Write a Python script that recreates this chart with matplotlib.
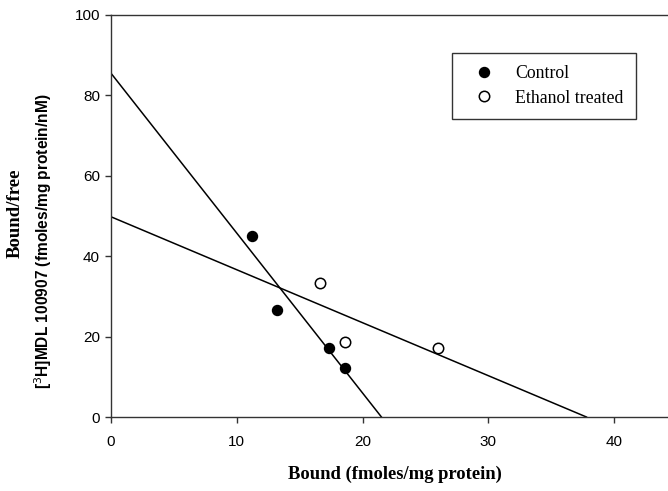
import matplotlib
matplotlib.use('Agg')
import matplotlib.pyplot as plt

# Scatchard data
control_bound = [11.2, 13.2, 17.3, 18.6]
control_ratio = [45.0, 26.5, 17.1, 12.3]
ethanol_bound = [16.6, 18.6, 26.0]
ethanol_ratio = [33.3, 18.6, 17.2]

# fitted lines: y-intercept and x-intercept
control_line_x = [0, 21.5]
control_line_y = [85.5, 0]
ethanol_line_x = [0, 37.8]
ethanol_line_y = [49.8, 0]

xticks = [0, 10, 20, 30, 40]
yticks = [0, 20, 40, 60, 80, 100]

fig = plt.figure(figsize=(6.68, 4.91), dpi=100)
ax = fig.add_axes([0.1662, 0.1507, 0.8473, 0.8188])

ax.plot(control_line_x, control_line_y, color='black', lw=1.1, zorder=2)
ax.plot(ethanol_line_x, ethanol_line_y, color='black', lw=1.1, zorder=2)
ax.plot(control_bound, control_ratio, 'o', color='black', ms=7.2, ls='none',
        label='Control', zorder=3)
ax.plot(ethanol_bound, ethanol_ratio, 'o', mfc='white', mec='black', mew=1.1,
        ms=7.5, ls='none', label='Ethanol treated', zorder=3)

ax.set_xlim(0, 45)
ax.set_ylim(0, 100)
ax.set_xticks(xticks)
ax.set_yticks(yticks)
ax.spines['right'].set_visible(False)
for s in ['left', 'bottom', 'top']:
    ax.spines[s].set_color('#333333')
    ax.spines[s].set_linewidth(1.0)
ax.tick_params(direction='out', length=4, width=1, color='#333333',
               labelsize=11)
ax.tick_params(axis='x', pad=9)
ax.tick_params(axis='y', pad=4)
for lab in ax.get_xticklabels() + ax.get_yticklabels():
    lab.set_family('Liberation Sans')

leg = ax.legend(loc='upper left', bbox_to_anchor=(0.677, 0.892),
                bbox_transform=fig.transFigure, frameon=True, fancybox=False,
                prop={'family': 'Liberation Serif', 'size': 12.8},
                handletextpad=0.65, borderpad=0.7, labelspacing=0.4,
                handlelength=2.2, borderaxespad=0)
leg.get_frame().set_edgecolor('black')
leg.get_frame().set_linewidth(1.0)

fig.text(0.591, 0.033, 'Bound (fmoles/mg protein)', ha='center', va='center',
         family='Liberation Serif', weight='bold', fontsize=13.4)
fig.text(0.023, 0.566, 'Bound/free', rotation=90, ha='center', va='center',
         family='Liberation Serif', weight='bold', fontsize=13.5)
fig.text(0.064, 0.509, '[$^{3}$H]MDL 100907 (fmoles/mg protein/nM)', rotation=90,
         ha='center', va='center', family='Liberation Sans', weight='bold',
         fontsize=11.2)

fig.savefig('out.png', dpi=100)
